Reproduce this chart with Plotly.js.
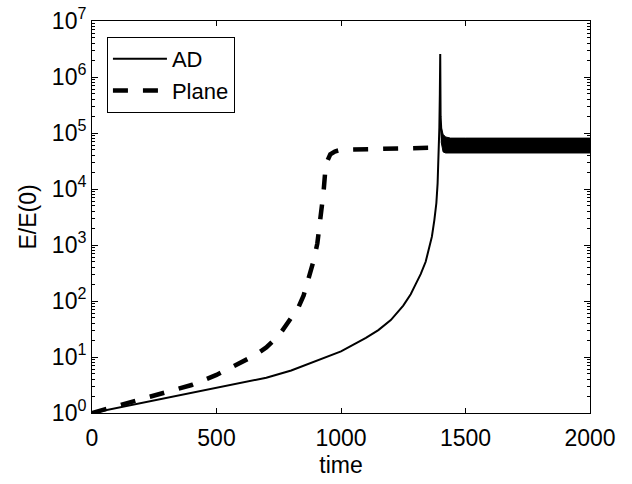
<!DOCTYPE html>
<html>
<head>
<meta charset="utf-8">
<script src="https://cdn.plot.ly/plotly-3.0.1.min.js"></script>
<style>html,body{margin:0;padding:0;background:#fff;}#chart{width:632px;height:484px;}</style>
</head>
<body>
<div id="chart"></div>
<script>
// ---- data ----
const adTime  = [0, 100, 200, 300, 400, 500, 600, 700, 800, 900, 1000, 1050, 1100, 1150, 1200, 1250, 1280, 1300, 1320, 1340, 1355, 1365, 1375, 1383, 1388, 1392, 1395, 1397, 1398.5, 1400, 1402, 1405];
const adValue = [1, 1.23, 1.51, 1.84, 2.24, 2.75, 3.39, 4.27, 5.75, 8.5, 12.6, 16.6, 21.9, 30.2, 45.7, 83, 132, 200, 302, 501, 891, 1410, 2820, 5620, 12600, 39800, 126000, 501000, 2570000, 200000, 130000, 70000];

const planeTime  = [0, 50, 100, 200, 300, 400, 500, 600, 650, 700, 750, 800, 830, 850, 870, 890, 905, 915, 923, 930, 936, 945, 957, 975, 1000, 1200, 1400, 2000];
const planeValue = [1, 1.15, 1.32, 1.74, 2.29, 3.16, 4.79, 7.94, 10.5, 14.8, 24, 50, 79, 126, 251, 525, 1070, 2240, 4270, 8900, 19000, 31600, 41700, 46800, 50100, 52500, 55000, 55000];

// envelope of the oscillating AD band after the burst
const bandTime  = [1402, 1405, 1410, 1420, 1440, 1500, 1700, 2000];
const bandUpper = [130000, 110000, 95000, 85000, 81000, 81000, 81000, 81000];
const bandLower = [70000, 55000, 46000, 44000, 44000, 44000, 44000, 44000];

const yTickVals = [1, 10, 100, 1000, 10000, 100000, 1000000, 10000000];
const yTickText = ['10<sup>0</sup>','10<sup>1</sup>','10<sup>2</sup>','10<sup>3</sup>','10<sup>4</sup>','10<sup>5</sup>','10<sup>6</sup>','10<sup>7</sup>'];
const xTickVals = [0, 500, 1000, 1500, 2000];

// minor log ticks (2..9 within each decade)
const yMinorVals = [];
yTickVals.slice(0, -1).forEach(d => { for (let k = 2; k <= 9; k++) yMinorVals.push(d * k); });

const FONT = 'Liberation Sans, Arial, Helvetica, sans-serif';

const traces = [
  {x: adTime, y: adValue, name: 'AD', mode: 'lines', line: {color: '#000', width: 2}},
  {x: planeTime, y: planeValue, name: 'Plane', mode: 'lines', line: {color: '#000', width: 4.5, dash: '15px,15px'}},
  {x: bandTime, y: bandLower, mode: 'lines', line: {color: '#000', width: 1}, showlegend: false, hoverinfo: 'skip'},
  {x: bandTime, y: bandUpper, mode: 'lines', fill: 'tonexty', fillcolor: '#000', line: {color: '#000', width: 1}, showlegend: false, hoverinfo: 'skip'}
];

const layout = {
  width: 632, height: 484,
  margin: {l: 92, r: 42, t: 21, b: 71},
  paper_bgcolor: '#fff', plot_bgcolor: '#fff',
  font: {family: FONT, size: 23, color: '#000'},
  showlegend: true,
  legend: {x: 0.03, y: 0.959, xanchor: 'left', yanchor: 'top', bgcolor: '#fff', bordercolor: '#000', borderwidth: 1,
           font: {family: FONT, size: 22, color: '#000'}, tracegroupgap: 0, traceorder: 'normal', itemwidth: 54},
  xaxis: {
    range: [0, 2000], tickmode: 'array', tickvals: xTickVals,
    ticks: 'inside', ticklen: 5, tickcolor: '#000', showline: true, linecolor: '#000', linewidth: 1,
    mirror: 'ticks', showgrid: false, zeroline: false, ticklabelstandoff: 4,
    title: {text: 'time', font: {family: FONT, size: 23}, standoff: 7},
    tickfont: {family: FONT, size: 23}
  },
  yaxis: {
    type: 'log', range: [0, 7], tickmode: 'array', tickvals: yTickVals, ticktext: yTickText,
    ticks: 'inside', ticklen: 6, tickcolor: '#000', showline: true, linecolor: '#000', linewidth: 1,
    mirror: 'ticks', showgrid: false, zeroline: false,
    minor: {tickmode: 'array', tickvals: yMinorVals, ticks: 'inside', ticklen: 3, tickwidth: 1, tickcolor: '#000', showgrid: false},
    title: {text: 'E/E(0)', font: {family: FONT, size: 23}, standoff: 8},
    tickfont: {family: FONT, size: 23}
  }
};

Plotly.newPlot('chart', traces, layout, {staticPlot: true, displayModeBar: false});
</script>
</body>
</html>
